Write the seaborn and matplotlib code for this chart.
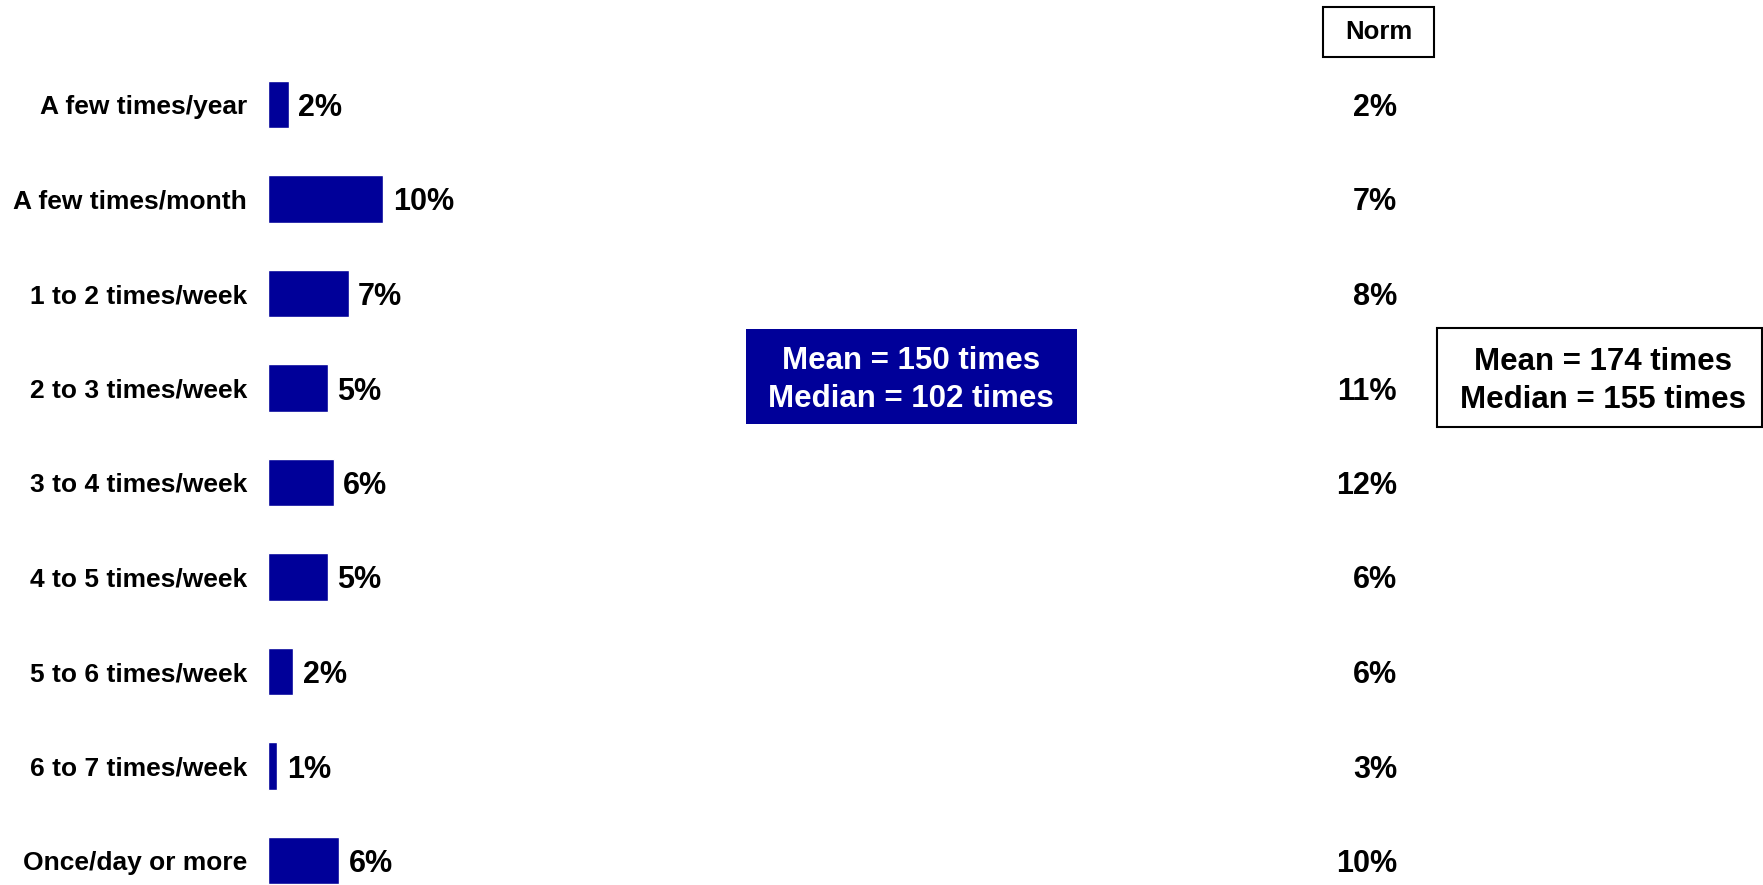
import matplotlib
matplotlib.use("Agg")
import matplotlib.pyplot as plt
import matplotlib.patches as mpatches
from matplotlib.transforms import blended_transform_factory
import seaborn as sns
import pandas as pd

# frequency categories, share of respondents (bar lengths)
categories = ["A few times/year", "A few times/month", "1 to 2 times/week",
              "2 to 3 times/week", "3 to 4 times/week", "4 to 5 times/week",
              "5 to 6 times/week", "6 to 7 times/week", "Once/day or more"]
pct = [1.8, 10.0, 7.0, 5.2, 5.7, 5.2, 2.2, 0.8, 6.2]
norm = [2, 7, 8, 11, 12, 6, 6, 3, 10]

mean_txt = "Mean = 150 times\nMedian = 102 times"
norm_mean_txt = "Mean = 174 times\nMedian = 155 times"

sns.set_style("white")
plt.rcParams['font.family'] = ['Liberation Sans', 'DejaVu Sans']
plt.rcParams['font.weight'] = 'bold'
plt.rcParams['text.color'] = 'black'
plt.rcParams['ytick.color'] = 'black'

W, H = 1763, 885
fig = plt.figure(figsize=(W / 100, H / 100), dpi=100)
ax = fig.add_axes([268 / W, 0, 1 - 268 / W, 1])

df = pd.DataFrame({"cat": categories, "pct": pct})
sns.barplot(data=df, x="pct", y="cat", color="#000099", saturation=1,
            width=0.5, orient="h", ax=ax)

ax.set_xlim(0, (W - 268) / 11.5)
ax.set_ylim(8 + 24.5 / 94.5, -104.5 / 94.5)
ax.set_xlabel("")
ax.set_ylabel("")
ax.set_xticks([])
sns.despine(ax=ax, left=True, bottom=True)
ax.tick_params(axis="y", length=0, pad=15, labelsize=19, labelcolor="black")
for t in ax.get_yticklabels():
    t.set_fontweight("bold")
    t.set_verticalalignment("center_baseline")

labels = ax.bar_label(ax.containers[0], labels=[f"{v:.0f}%" for v in pct],
                      padding=7, fontsize=22, fontweight="bold", color="black")
for t in labels:
    t.set_verticalalignment("center_baseline")

# norm column
tr = blended_transform_factory(fig.transFigure, ax.transData)
for i, v in enumerate(norm):
    ax.text(1397 / W, i, f"{v}%", transform=tr, ha="right", va="center_baseline",
            fontsize=22, fontweight="bold", color="black")

def px_box(x0, y0, x1, y1, **kw):
    fig.patches.append(mpatches.Rectangle((x0 / W, 1 - y1 / H), (x1 - x0) / W,
                                          (y1 - y0) / H, transform=fig.transFigure, **kw))

px_box(1323, 7, 1434, 57, facecolor="white", edgecolor="black", linewidth=1.5)
fig.text(1378.5 / W, 1 - 32 / H, "Norm", ha="center", va="center",
         fontsize=18.5, fontweight="bold", color="black")

px_box(746, 329, 1077, 424, facecolor="#000099", edgecolor="#000099", linewidth=0)
fig.text(911 / W, 1 - 380 / H, mean_txt, ha="center", va="center", color="white",
         fontsize=22.5, fontweight="bold", linespacing=1.35)

px_box(1437, 328, 1762, 427, facecolor="white", edgecolor="black", linewidth=1.5)
fig.text(1603 / W, 1 - 381 / H, norm_mean_txt, ha="center", va="center",
         fontsize=22.5, fontweight="bold", linespacing=1.35, color="black")

fig.savefig("out.png", dpi=100)
